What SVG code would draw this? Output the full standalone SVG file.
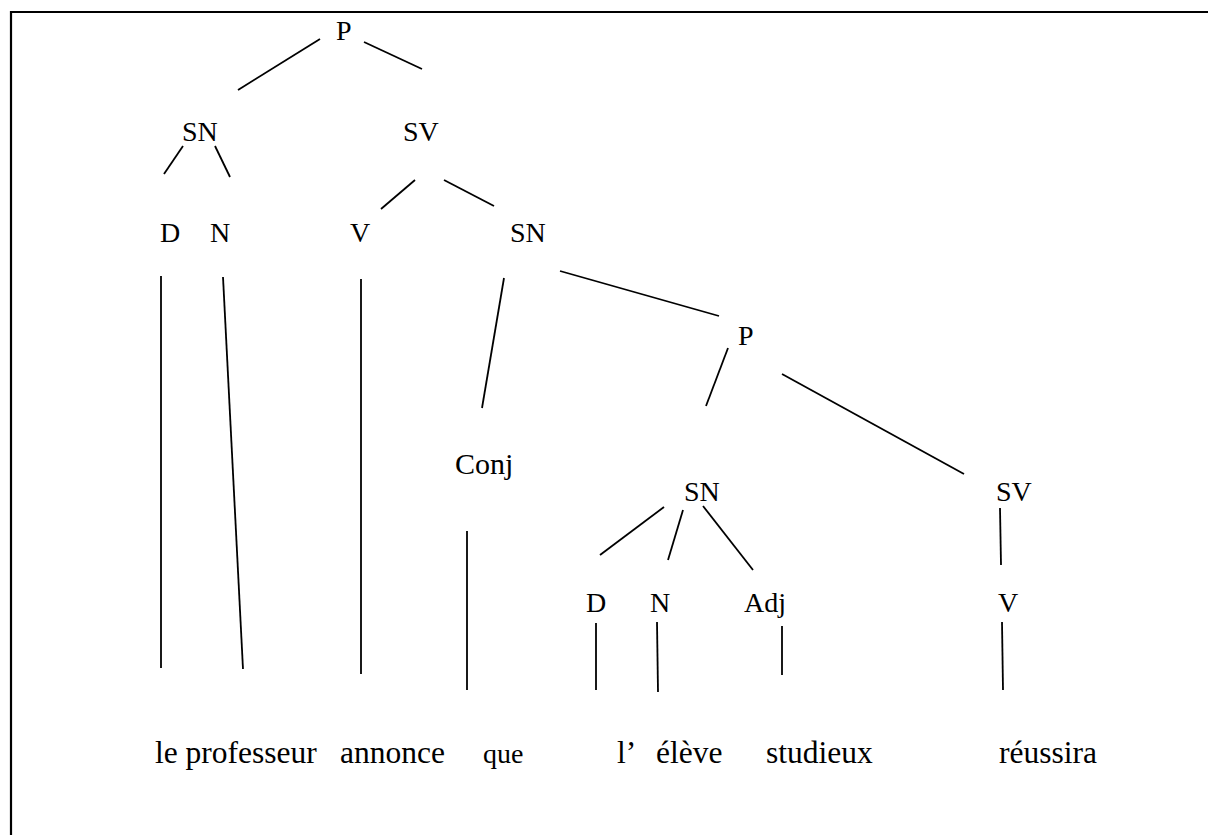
<svg xmlns="http://www.w3.org/2000/svg" width="1208" height="835" viewBox="0 0 1208 835">
  <style>
    text { font-family: "Liberation Serif", "Times New Roman", serif; fill: #000; }
    .cat { font-size: 28px; }
    .word { font-size: 31.5px; }
    .small { font-size: 28px; }
    .edge { stroke: #000; stroke-width: 1.8; fill: none; }
    .frame { stroke: #000; stroke-width: 2.2; fill: none; }
  </style>
  <rect width="1208" height="835" fill="#fff"/>
  <!-- page frame (only left and top edges fall inside the view) -->
  <path class="frame" d="M11,840 V12 H1212"/>

  <!-- tree branches -->
  <g id="connectors">
    <line class="edge" x1="320" y1="39" x2="238" y2="90"/>
    <line class="edge" x1="364" y1="42" x2="422" y2="69"/>
    <line class="edge" x1="183" y1="146" x2="164" y2="174"/>
    <line class="edge" x1="215" y1="146" x2="230" y2="177"/>
    <line class="edge" x1="415" y1="180" x2="381" y2="209"/>
    <line class="edge" x1="444" y1="180" x2="494" y2="206"/>
    <line class="edge" x1="161" y1="276" x2="161" y2="668"/>
    <line class="edge" x1="223" y1="277" x2="243" y2="669"/>
    <line class="edge" x1="361" y1="279" x2="361" y2="674"/>
    <line class="edge" x1="504" y1="278" x2="482" y2="408"/>
    <line class="edge" x1="560" y1="271" x2="719" y2="316"/>
    <line class="edge" x1="728" y1="348" x2="706" y2="406"/>
    <line class="edge" x1="782" y1="374" x2="964" y2="474"/>
    <line class="edge" x1="467" y1="531" x2="467" y2="690"/>
    <line class="edge" x1="664" y1="507" x2="600" y2="555"/>
    <line class="edge" x1="683" y1="510" x2="668" y2="560"/>
    <line class="edge" x1="703" y1="506" x2="753" y2="570"/>
    <line class="edge" x1="1000" y1="508" x2="1001" y2="565"/>
    <line class="edge" x1="596" y1="623" x2="596" y2="690"/>
    <line class="edge" x1="657" y1="622" x2="658" y2="692"/>
    <line class="edge" x1="782" y1="626" x2="782" y2="675"/>
    <line class="edge" x1="1002" y1="622" x2="1003" y2="690"/>
  </g>

  <!-- category nodes -->
  <g id="n-P"><text class="cat" x="336" y="40">P</text></g>
  <g id="n-SN"><text class="cat" x="182" y="141">SN</text></g>
  <g id="n-SV"><text class="cat" x="403" y="141">SV</text></g>
  <g id="n-D"><text class="cat" x="160" y="242">D</text></g>
  <g id="n-N"><text class="cat" x="210" y="242">N</text></g>
  <g id="n-V"><text class="cat" x="350" y="242">V</text></g>
  <g id="n-SN-obj"><text class="cat" x="510" y="242">SN</text></g>
  <g id="n-Conj"><text class="cat" x="455" y="474" style="font-size:30px">Conj</text></g>
  <g id="n-P-sub"><text class="cat" x="738" y="345">P</text></g>
  <g id="n-SN-sub"><text class="cat" x="684" y="501">SN</text></g>
  <g id="n-SV-sub"><text class="cat" x="996" y="501">SV</text></g>
  <g id="n-D-sub"><text class="cat" x="586" y="612">D</text></g>
  <g id="n-N-sub"><text class="cat" x="650" y="612">N</text></g>
  <g id="n-Adj"><text class="cat" x="744" y="612">Adj</text></g>
  <g id="n-V-sub"><text class="cat" x="998" y="612">V</text></g>

  <!-- words -->
  <g id="w-le-professeur"><text class="word" x="155" y="763">le professeur</text></g>
  <g id="w-annonce"><text class="word" x="340" y="763">annonce</text></g>
  <g id="w-que"><text class="small" x="483" y="763">que</text></g>
  <g id="w-l"><text class="word" x="617" y="763">l’</text></g>
  <g id="w-eleve"><text class="word" x="656" y="763">élève</text></g>
  <g id="w-studieux"><text class="word" x="766" y="763">studieux</text></g>
  <g id="w-reussira"><text class="word" x="999" y="763">réussira</text></g>
</svg>
